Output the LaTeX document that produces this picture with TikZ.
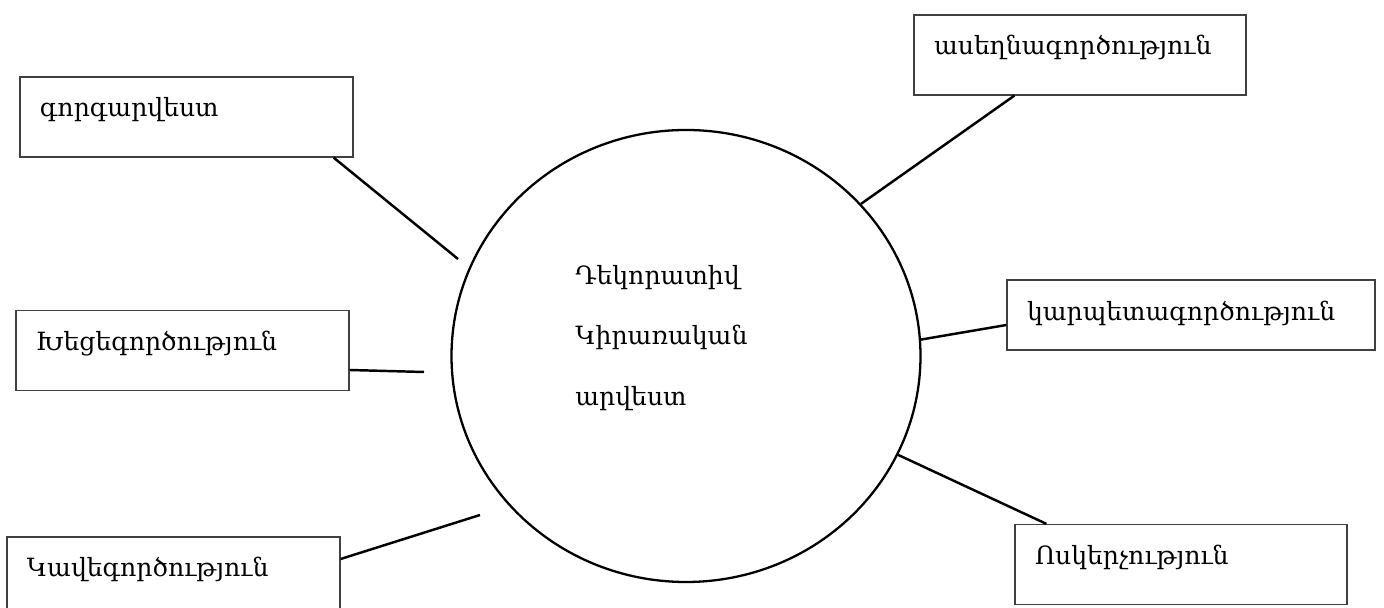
\documentclass[tikz,border=0pt]{standalone}
\usepackage{fontspec}
\setmainfont{DejaVu Serif}
\usetikzlibrary{shapes.geometric}

\begin{document}
\begin{tikzpicture}[
  box/.style={draw=black!75, line width=0.7pt, rectangle, align=left,
    inner xsep=0.4cm, inner ysep=0pt, minimum height=1.6cm,
    text height=0.4cm, text depth=0.4cm},
  link/.style={line width=1.4pt}]
\fontsize{14.3}{34.5}\selectfont
\useasboundingbox (0,0) rectangle (27.68,12.16);

% centre of the diagram
\node[draw, ellipse, line width=1.3pt, minimum width=9.38cm, minimum height=9.04cm] (art) at (13.72,5.04) {};
\node[anchor=west, align=left, inner sep=0pt] (artlbl) at (11.5,5.4) {Դեկորատիվ\\Կիրառական\\արվեստ};

% left side
\node[box, text width=5.86cm] (gorg) at (3.73,9.82) {գորգարվեստ};
\node[box, text width=5.86cm] (khec) at (3.65,5.15) {Խեցեգործություն};
\node[box, text width=5.86cm] (kav) at (3.47,0.62) {Կավեգործություն};
\coordinate (gorgend) at (9.16,6.98);
\coordinate (khecend) at (8.48,4.72);
\coordinate (kavend) at (9.6,1.86);
\draw[link] ([xshift=-0.4cm]gorg.south east) -- (gorgend);
\draw[link] ([yshift=-0.39cm]khec.east) -- (khecend);
\draw[link] ([yshift=0.36cm]kav.east) -- (kavend);

% right side
\node[box, text width=5.84cm] (aseg) at (21.6,11.06) {ասեղնագործություն};
\node[box, text width=6.56cm, minimum height=1.4cm, text height=0.55cm, text depth=0.33cm] (karp) at (23.82,5.86) {կարպետագործություն};
\node[box, text width=5.84cm] (vosk) at (23.62,0.87) {Ոսկերչություն};
\draw[link] ([xshift=2.02cm]aseg.south west) -- (art.41.5);
\draw[link] ([yshift=-0.2cm]karp.west) -- (art.4.4);
\draw[link] ([xshift=0.64cm]vosk.north west) -- (art.-25);
\end{tikzpicture}
\end{document}
